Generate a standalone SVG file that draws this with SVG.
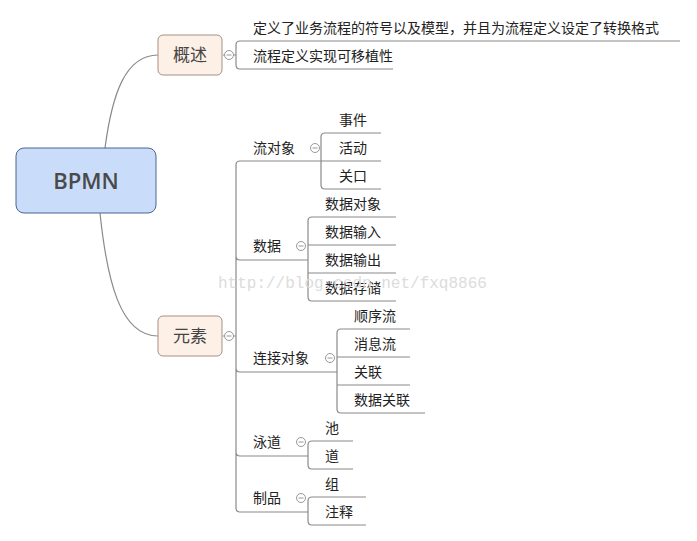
<svg xmlns="http://www.w3.org/2000/svg" width="697" height="541" viewBox="0 0 697 541">
<style>
text{font-family:"Noto Sans CJK SC","Liberation Sans",sans-serif;font-size:14px;fill:#222}
.c{fill:none;stroke:#8a8a8a;stroke-width:1.2}
.t{fill:#fdf0e6;stroke:#a59080;stroke-width:1}
.k{fill:#fff;stroke:#999;stroke-width:1}
</style>
<rect width="697" height="541" fill="#fff"/>
<g id="connectors">
<path class="c" d="M105,148 C112,95 125,55 158,55"/>
<path class="c" d="M100,213 C107,280 120,336 158,336"/>
<path class="c" d="M223,55 H236 M680,41 H240 Q236,41 236,45 V65 Q236,69 240,69 H393"/>
<path class="c" d="M223,336 H236 M236,165 Q236,161 240,161 H321 M236,165 V508 Q236,512 240,512 H308 M236,256 Q236,260 240,260 H308 M236,368 Q236,372 240,372 H337 M236,452 Q236,456 240,456 H308"/>
<path class="c" d="M381,133 H325 Q321,133 321,137 V185 Q321,189 325,189 H381 M321,161 H381"/>
<path class="c" d="M396,217 H312 Q308,217 308,221 V297 Q308,301 312,301 H396 M308,245 H396 M308,273 H396"/>
<path class="c" d="M410,329 H341 Q337,329 337,333 V409 Q337,413 341,413 H425 M337,357 H410 M337,385 H410"/>
<path class="c" d="M353,441 H312 Q308,441 308,445 V465 Q308,469 312,469 H353"/>
<path class="c" d="M366,497 H312 Q308,497 308,501 V521 Q308,525 312,525 H366"/>
</g>
<g id="root"><rect x="16" y="148" width="140" height="65" rx="8" fill="#c9dcfa" stroke="#4a6592"/><text x="86" y="189" text-anchor="middle" style="font-family:'Open Sans','Liberation Sans',sans-serif;font-size:22px;fill:#4a4a4a;font-weight:600">BPMN</text></g>
<g id="overview"><rect class="t" x="158" y="35" width="64" height="40" rx="5"/><text x="190" y="61" text-anchor="middle" style="font-size:17px;fill:#444">概述</text><circle class="k" cx="229" cy="55" r="4.5"/><path d="M226.5,55 H231.5" stroke="#999"/></g>
<g id="elements"><rect class="t" x="158" y="316" width="64" height="40" rx="5"/><text x="190" y="342" text-anchor="middle" style="font-size:17px;fill:#444">元素</text><circle class="k" cx="229" cy="336" r="4.5"/><path d="M226.5,336 H231.5" stroke="#999"/></g>
<g id="ov1"><text x="253" y="33">定义了业务流程的符号以及模型，并且为流程定义设定了转换格式</text></g>
<g id="ov2"><text x="253" y="61">流程定义实现可移植性</text></g>
<g id="flowobj"><text x="253" y="153">流对象</text><circle class="k" cx="315" cy="148" r="4.5"/><path d="M312.5,148 H317.5" stroke="#999"/></g>
<g id="n1"><text x="339" y="125">事件</text></g>
<g id="n2"><text x="339" y="153">活动</text></g>
<g id="n3"><text x="339" y="181">关口</text></g>
<g id="data"><text x="253" y="251">数据</text><circle class="k" cx="301" cy="246" r="4.5"/><path d="M298.5,246 H303.5" stroke="#999"/></g>
<g id="d1"><text x="325" y="209">数据对象</text></g>
<g id="d2"><text x="325" y="237">数据输入</text></g>
<g id="d3"><text x="325" y="265">数据输出</text></g>
<g id="d4"><text x="325" y="293">数据存储</text></g>
<g id="conn"><text x="253" y="363">连接对象</text><circle class="k" cx="330" cy="358" r="4.5"/><path d="M327.5,358 H332.5" stroke="#999"/></g>
<g id="c1"><text x="354" y="321">顺序流</text></g>
<g id="c2"><text x="354" y="349">消息流</text></g>
<g id="c3"><text x="354" y="377">关联</text></g>
<g id="c4"><text x="354" y="405">数据关联</text></g>
<g id="lane"><text x="253" y="447">泳道</text><circle class="k" cx="301" cy="442" r="4.5"/><path d="M298.5,442 H303.5" stroke="#999"/></g>
<g id="l1"><text x="325" y="433">池</text></g>
<g id="l2"><text x="325" y="461">道</text></g>
<g id="art"><text x="253" y="503">制品</text><circle class="k" cx="301" cy="498" r="4.5"/><path d="M298.5,498 H303.5" stroke="#999"/></g>
<g id="a1"><text x="325" y="489">组</text></g>
<g id="a2"><text x="325" y="517">注释</text></g>
<text x="218" y="288" style="font-family:'Liberation Mono',monospace;font-size:16px;fill:#dcdcdc">http://blog.csdn.net/fxq8866</text>
</svg>
